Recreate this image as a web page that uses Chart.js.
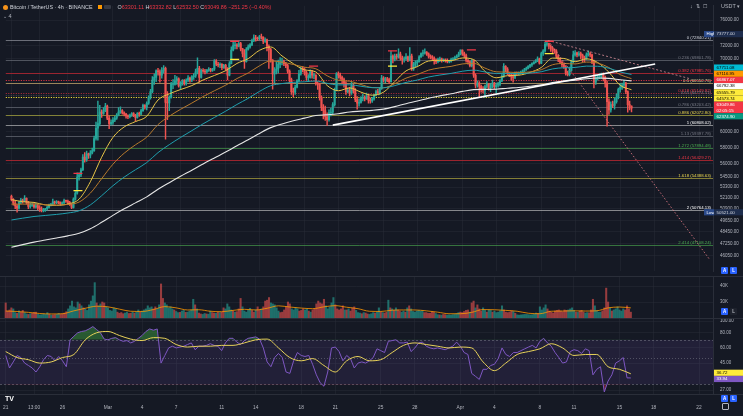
<!DOCTYPE html>
<html>
<head>
<meta charset="utf-8">
<title>Bitcoin / TetherUS 4h</title>
<script src="https://cdn.jsdelivr.net/npm/chart.js@4.4.1/dist/chart.umd.min.js"></script>
<style>
    html, body { margin: 0; padding: 0; background: #151924; }
    body { width: 743px; height: 416px; position: relative; overflow: hidden; font-family: "Liberation Sans", Arial, sans-serif; color: #d1d4dc; }
    canvas { position: absolute; left: 0; display: block; }
    .sep { position: absolute; left: 0; width: 743px; height: 1px; background: #2a2e39; }
    .txt { position: absolute; white-space: nowrap; font-size: 5.4px; line-height: 6px; }
    .dn { color: #f23645; }
    .coin { display: inline-block; width: 5px; height: 5px; border-radius: 50%; background: #f7931a; vertical-align: -1px; margin-right: 2px; }
    .sq { display: inline-block; width: 4px; height: 4px; background: #ff9800; margin: 0 2px 0 5px; vertical-align: 0; }
    .pill { display: inline-block; width: 7px; height: 4px; background: #363a45; border-radius: 1px; margin-right: 7px; vertical-align: 0; }
    .btn { position: absolute; width: 7px; height: 7px; border-radius: 1px; background: #2962ff; color: #fff; font-size: 4.5px; line-height: 7px; text-align: center; font-weight: bold; }
    .btn.off { background: #1e222d; color: #b2b5be; }
</style>
</head>
<body>
<canvas id="price-chart" width="743" height="277" style="top:0"></canvas>
<canvas id="volume-chart" width="743" height="41" style="top:277px"></canvas>
<canvas id="rsi-chart" width="743" height="97" style="top:319px"></canvas>
<div class="sep" style="top:276px"></div>
<div class="sep" style="top:318px"></div>
<div class="sep" style="top:394px"></div>

<div class="txt" style="left:3px;top:4px"><span class="coin"></span>Bitcoin / TetherUS · 4h · BINANCE<span class="sq"></span><span class="pill"></span>O<span class="dn">63301.11</span> H<span class="dn">63332.82</span> L<span class="dn">62532.50</span> C<span class="dn">63049.86</span> <span class="dn">−251.25 (−0.40%)</span></div>
<div class="txt" style="left:3px;top:13px;color:#b2b5be">⌄ 4</div>
<div class="txt" style="left:690px;top:3px;color:#b2b5be">↓&nbsp;&nbsp;⇅&nbsp;&nbsp;☐</div>
<div class="txt" style="left:721px;top:3px;color:#b2b5be">USDT ▾</div>
<div class="txt" style="left:5px;top:396px;font-size:7px;font-weight:900;color:#fff">TV</div>
<div class="txt" style="left:722px;top:403px;width:5px;height:5px;border:1px solid #b2b5be;border-radius:1px"></div>
<div class="btn" style="left:721px;top:267px">A</div><div class="btn" style="left:730px;top:267px">L</div>
<div class="btn" style="left:721px;top:308px">A</div><div class="btn off" style="left:730px;top:308px">L</div>
<div class="btn" style="left:721px;top:395px">A</div><div class="btn" style="left:730px;top:395px">L</div>

<script>
// ---------------------------------------------------------------------------
// Data: BTCUSDT 4h candles from Feb 21 00:00 UTC, six candles per day
// ---------------------------------------------------------------------------
var opens = [
    52270, 51900, 51500, 51200, 50950, 51600,
    51850, 51750, 52050, 51600, 51150, 51250,
    51300, 51100, 51250, 51000, 50900, 50700,
    50750, 50900, 51050, 51300, 51400, 51650,
    51550, 51650, 51600, 51450, 51550, 51800,
    51730, 51600, 51350, 51050, 51950, 52600,
    54450, 54700, 55300, 56800, 56500, 57200,
    57050, 57300, 57600, 59100, 60400, 61000,
    62500, 62350, 62700, 63300, 61700, 61000,
    61150, 61450, 61700, 62100, 62500, 62700,
    62400, 62250, 62000, 61900, 62100, 62300,
    62050, 61800, 62300, 62250, 62700, 63400,
    63150, 63700, 64500, 65300, 66900, 67300,
    68250, 68100, 67600, 68300, 68600, 63800,
    63750, 64500, 66300, 66300, 66800, 67100,
    66100, 66600, 66800, 66400, 66900, 67200,
    66900, 67400, 67500, 68100, 68600, 67300,
    68300, 68200, 68100, 68300, 68500, 68300,
    68500, 69700, 69200, 69100, 69200, 68700,
    69050, 68500, 67600, 69300, 71300, 72000,
    72100, 71900, 72300, 71500, 70800, 69600,
    71450, 71800, 72100, 72800, 73200, 73100,
    73050, 73400, 73300, 72700, 72900, 71900,
    71400, 69800, 67800, 68200, 68500, 69200,
    69450, 69600, 69300, 69000, 68200, 67000,
    65300, 65200, 65900, 66800, 67800, 68600,
    68400, 68000, 67300, 67300, 68100, 67600,
    67600, 66400, 66300, 64500, 63100, 62700,
    61900, 61500, 62400, 62500, 63500, 65500,
    67850, 67600, 67300, 67000, 66500, 65300,
    65500, 65100, 66100, 65400, 64200, 63700,
    63800, 64400, 64500, 64300, 64700, 64100,
    64000, 64300, 64800, 65300, 65100, 65700,
    67200, 66900, 67100, 67000, 66700, 70400,
    69950, 70400, 70300, 70700, 70100, 69900,
    70000, 70300, 69800, 70400, 68500, 69200,
    69450, 69600, 70300, 70800, 70900, 71000,
    70750, 70400, 70300, 70100, 69800, 69600,
    69900, 70000, 69800, 69800, 69700, 69600,
    69650, 69900, 70000, 70200, 70400, 70700,
    71300, 70800, 70500, 69800, 69600, 69000,
    69700, 67600, 66200, 66500, 66000, 65600,
    65450, 66000, 66300, 65800, 66100, 66500,
    65970, 66200, 66300, 66800, 67400, 68900,
    68500, 67900, 67500, 67400, 67300, 67900,
    67850, 67900, 68000, 68200, 68400, 68600,
    68900, 69100, 69300, 69500, 69700, 70000,
    69350, 70800, 71200, 72200, 72300, 71900,
    71600, 71300, 71200, 70400, 70000, 69500,
    69150, 68800, 67900, 67700, 68300, 69600,
    70600, 70900, 70600, 70800, 70500, 70200,
    70000, 70600, 70800, 70600, 69600, 66600,
    67150, 67300, 67500, 67800, 67300, 66500,
    63900, 62800, 63500, 63400, 63900, 64500,
    65600, 65900, 66200, 66500, 65300, 63500,
    63301.11
];
var highs = [
    52400, 52000, 51700, 51350, 51700, 52050,
    51950, 52350, 52100, 51700, 51500, 51500,
    51450, 51500, 51400, 51250, 51100, 50950,
    50950, 51200, 51400, 51500, 51950, 51750,
    51800, 51750, 51650, 51650, 51950, 51850,
    51850, 51700, 51450, 52100, 52800, 54950,
    54950, 55500, 57100, 57350, 57550, 57300,
    57600, 57900, 59400, 61200, 64000, 63400,
    62800, 63100, 63680, 63450, 62000, 61500,
    61800, 61950, 62300, 63100, 63200, 62850,
    62550, 62350, 62150, 62250, 62450, 62450,
    62200, 62450, 62500, 62900, 63600, 63500,
    63900, 64700, 65600, 67400, 67800, 68400,
    68600, 68400, 68700, 69000, 68800, 65300,
    64700, 66600, 67000, 67600, 67400, 67250,
    66700, 67000, 67000, 67100, 67550, 67350,
    67550, 67850, 68500, 70150, 68900, 68500,
    68550, 68450, 68450, 68700, 68600, 68600,
    69900, 69900, 69500, 69400, 69300, 69200,
    69200, 68700, 69600, 71800, 72800, 72500,
    72300, 72600, 72500, 71600, 71400, 71700,
    72100, 72300, 73000, 73650, 73600, 73300,
    73600, 73777, 73350, 73200, 73000, 72100,
    71600, 69900, 68700, 69600, 69800, 70200,
    70100, 69800, 69500, 69200, 68400, 67200,
    65800, 66200, 67000, 68300, 68800, 68850,
    68700, 68200, 67700, 68400, 68300, 67900,
    67700, 66700, 66500, 64700, 63500, 63300,
    62400, 62800, 63000, 63800, 65800, 68000,
    68100, 67900, 67500, 67200, 66700, 65800,
    65900, 66600, 66300, 65700, 64600, 64300,
    64600, 65000, 64700, 65100, 64900, 64400,
    64500, 64900, 65500, 65600, 65900, 67600,
    67400, 67300, 67300, 67200, 71150, 70600,
    70700, 70700, 71500, 71000, 70400, 70300,
    70800, 70400, 71700, 70700, 69500, 69700,
    69800, 70500, 70900, 71300, 71500, 71100,
    70900, 70600, 70500, 70300, 70000, 70100,
    70250, 70100, 70000, 70000, 70000, 69800,
    70100, 70200, 70400, 70600, 71000, 71350,
    71350, 71000, 70700, 69900, 69700, 69900,
    69800, 67800, 66800, 66700, 66200, 66000,
    66200, 66700, 66400, 66400, 66900, 66600,
    66500, 66600, 67000, 67700, 69300, 69000,
    68700, 68000, 67800, 67900, 68100, 68100,
    68100, 68200, 68400, 68600, 68800, 69000,
    69200, 69400, 69600, 69900, 70300, 70100,
    71000, 71400, 72500, 72797, 72400, 72100,
    71750, 71500, 71400, 70600, 70100, 69700,
    69400, 69000, 68200, 68800, 69800, 71150,
    71250, 71000, 71100, 71000, 70700, 70400,
    70900, 71200, 71000, 70700, 69800, 67700,
    67600, 67800, 67900, 67950, 67500, 66800,
    64300, 63900, 64000, 64400, 65000, 65800,
    66400, 66500, 66870, 66600, 65400, 64000,
    63332.82
];
var lows = [
    51750, 51300, 50900, 50521, 50850, 51450,
    51500, 51650, 51400, 50900, 50950, 51150,
    50950, 50950, 50800, 50600, 50550, 50550,
    50600, 50750, 50950, 51200, 51300, 51400,
    51450, 51450, 51300, 51350, 51450, 51600,
    51350, 51250, 50900, 50950, 51850, 52500,
    54100, 54500, 55200, 56200, 56300, 56650,
    56700, 57200, 57500, 58900, 58900, 60700,
    61800, 62200, 62550, 61500, 60350, 60800,
    60900, 61250, 61550, 62000, 62350, 62250,
    62000, 61700, 61650, 61750, 61950, 61900,
    61300, 61700, 61950, 62150, 62600, 62900,
    62800, 63550, 64250, 65100, 66300, 66700,
    67600, 66600, 67200, 67900, 59000, 61500,
    62700, 64400, 65700, 66200, 66300, 65900,
    65600, 66200, 66200, 66200, 66700, 66600,
    66700, 67000, 67300, 67800, 66600, 67200,
    68000, 67800, 67900, 68150, 68100, 68150,
    68300, 69000, 68800, 68700, 68400, 68600,
    68300, 66950, 67500, 69250, 71200, 71500,
    71500, 71800, 71200, 70300, 68600, 69500,
    71300, 71600, 72000, 72600, 72700, 72800,
    72900, 73000, 72300, 72500, 71200, 68600,
    69500, 65630, 66500, 67800, 67900, 68700,
    69100, 69000, 68700, 67900, 66600, 64900,
    64550, 64900, 65800, 66700, 67600, 68100,
    67600, 66950, 66700, 67200, 67200, 67100,
    66200, 65600, 64100, 62700, 61600, 61400,
    60775, 61300, 62000, 62300, 63300, 65400,
    67200, 67000, 66400, 65900, 64900, 65100,
    64700, 64900, 65100, 63900, 62900, 63300,
    63700, 64000, 64000, 64200, 63700, 63700,
    63800, 64100, 64700, 64900, 64900, 65600,
    66600, 66500, 66700, 66400, 66600, 69400,
    69700, 69900, 70100, 69800, 69200, 69500,
    69800, 69600, 69700, 68300, 68300, 68800,
    68900, 69500, 70200, 70400, 70700, 70500,
    70100, 70000, 69800, 69200, 69300, 69400,
    69600, 69500, 69600, 69500, 69400, 69400,
    69500, 69800, 69900, 70100, 70300, 70600,
    70500, 70200, 69500, 69200, 68800, 68800,
    67300, 65800, 65900, 64500, 65200, 65100,
    64500, 65800, 65500, 65300, 65800, 65700,
    65100, 65900, 66100, 66700, 67300, 68100,
    67700, 67400, 66900, 66600, 67100, 67600,
    67600, 67800, 68000, 68100, 68300, 68500,
    68700, 68900, 69200, 69400, 69600, 69200,
    69300, 70500, 71000, 71900, 71500, 71100,
    70900, 70800, 70100, 69600, 69300, 68800,
    68600, 67600, 67500, 67500, 68200, 69400,
    70400, 70300, 70400, 70000, 69600, 69600,
    69900, 70400, 70300, 69300, 65800, 66300,
    66900, 67100, 67200, 66800, 65900, 60660,
    62200, 62500, 63100, 62900, 63700, 64300,
    65200, 65600, 65800, 65000, 62500, 62800,
    62532.50
];
var closes = [
    51900, 51500, 51200, 50950, 51600, 51850,
    51750, 52050, 51600, 51150, 51250, 51300,
    51100, 51250, 51000, 50900, 50700, 50750,
    50900, 51050, 51300, 51400, 51650, 51550,
    51650, 51600, 51450, 51550, 51800, 51730,
    51600, 51350, 51050, 51950, 52600, 54450,
    54700, 55300, 56800, 56500, 57200, 57050,
    57300, 57600, 59100, 60400, 61000, 62500,
    62350, 62700, 63300, 61700, 61000, 61150,
    61450, 61700, 62100, 62500, 62700, 62400,
    62250, 62000, 61900, 62100, 62300, 62050,
    61800, 62300, 62250, 62700, 63400, 63150,
    63700, 64500, 65300, 66900, 67300, 68250,
    68100, 67600, 68300, 68600, 63800, 63750,
    64500, 66300, 66300, 66800, 67100, 66100,
    66600, 66800, 66400, 66900, 67200, 66900,
    67400, 67500, 68100, 68600, 67300, 68300,
    68200, 68100, 68300, 68500, 68300, 68500,
    69700, 69200, 69100, 69200, 68700, 69050,
    68500, 67600, 69300, 71300, 72000, 72100,
    71900, 72300, 71500, 70800, 69600, 71450,
    71800, 72100, 72800, 73200, 73100, 73050,
    73400, 73300, 72700, 72900, 71900, 71400,
    69800, 67800, 68200, 68500, 69200, 69450,
    69600, 69300, 69000, 68200, 67000, 65300,
    65200, 65900, 66800, 67800, 68600, 68400,
    68000, 67300, 67300, 68100, 67600, 67600,
    66400, 66300, 64500, 63100, 62700, 61900,
    61500, 62400, 62500, 63500, 65500, 67850,
    67600, 67300, 67000, 66500, 65300, 65500,
    65100, 66100, 65400, 64200, 63700, 63800,
    64400, 64500, 64300, 64700, 64100, 64000,
    64300, 64800, 65300, 65100, 65700, 67200,
    66900, 67100, 67000, 66700, 70400, 69950,
    70400, 70300, 70700, 70100, 69900, 70000,
    70300, 69800, 70400, 68500, 69200, 69450,
    69600, 70300, 70800, 70900, 71000, 70750,
    70400, 70300, 70100, 69800, 69600, 69900,
    70000, 69800, 69800, 69700, 69600, 69650,
    69900, 70000, 70200, 70400, 70700, 71300,
    70800, 70500, 69800, 69600, 69000, 69700,
    67600, 66200, 66500, 66000, 65600, 65450,
    66000, 66300, 65800, 66100, 66500, 65970,
    66200, 66300, 66800, 67400, 68900, 68500,
    67900, 67500, 67400, 67300, 67900, 67850,
    67900, 68000, 68200, 68400, 68600, 68900,
    69100, 69300, 69500, 69700, 70000, 69350,
    70800, 71200, 72200, 72300, 71900, 71600,
    71300, 71200, 70400, 70000, 69500, 69150,
    68800, 67900, 67700, 68300, 69600, 70600,
    70900, 70600, 70800, 70500, 70200, 70000,
    70600, 70800, 70600, 69600, 66600, 67150,
    67300, 67500, 67800, 67300, 66500, 63900,
    62800, 63500, 63400, 63900, 64500, 65600,
    65900, 66200, 66500, 65300, 63500, 63301.11,
    63049.86
];
// volume per candle, thousand BTC
var volumes = [
    29.5, 25.5, 26.0, 27.0, 26.5, 24.8,
    24.5, 25.6, 25.0, 25.8, 24.8, 24.2,
    24.0, 24.3, 24.5, 24.9, 25.0, 24.1,
    23.8, 23.9, 24.2, 24.0, 24.8, 24.1,
    23.7, 23.8, 23.9, 24.0, 24.4, 24.0,
    24.3, 24.6, 25.2, 26.5, 28.0, 30.5,
    27.5, 27.0, 30.0, 29.0, 28.0, 27.0,
    26.5, 25.8, 28.5, 30.5, 33.5, 42.5,
    29.5, 28.0, 29.0, 30.0, 29.5, 27.5,
    27.0, 25.8, 25.5, 27.0, 26.5, 25.0,
    24.5, 24.8, 24.3, 24.6, 25.0, 24.4,
    24.5, 25.0, 24.6, 25.2, 26.0, 25.0,
    25.5, 26.0, 26.5, 28.0, 27.0, 27.5,
    26.5, 27.5, 26.5, 28.5, 41.5, 32.0,
    29.5, 28.5, 27.0, 27.5, 26.5, 26.0,
    25.3, 24.8, 24.9, 25.5, 25.8, 24.9,
    25.0, 25.5, 26.0, 31.5, 28.5, 26.5,
    24.6, 24.2, 24.0, 24.4, 24.2, 24.1,
    25.5, 24.8, 24.6, 24.5, 25.0, 24.8,
    25.0, 27.0, 26.5, 29.0, 27.5, 26.0,
    25.5, 25.0, 25.2, 26.5, 32.0, 27.5,
    25.5, 25.0, 26.0, 26.8, 25.8, 25.0,
    26.0, 27.5, 26.0, 26.5, 27.5, 30.5,
    31.0, 32.5, 29.5, 29.0, 28.5, 27.0,
    25.5, 24.8, 25.0, 26.0, 27.5, 30.0,
    29.0, 26.5, 26.0, 27.0, 26.5, 25.5,
    25.8, 26.5, 26.0, 26.5, 25.5, 25.0,
    26.0, 26.5, 29.0, 30.5, 29.5, 29.0,
    31.5, 28.0, 26.5, 27.5, 29.5, 32.5,
    28.5, 26.5, 26.0, 26.5, 28.0, 26.0,
    26.0, 26.5, 25.5, 27.0, 27.5, 25.8,
    24.8, 24.6, 24.3, 24.8, 24.6, 24.2,
    24.0, 24.3, 24.8, 24.6, 25.0, 27.0,
    25.0, 24.8, 24.6, 25.0, 31.0, 27.0,
    26.5, 25.8, 27.0, 26.0, 25.5, 25.0,
    25.5, 25.0, 27.0, 28.0, 26.5, 25.3,
    25.0, 25.5, 25.8, 25.5, 25.6, 24.8,
    24.8, 24.5, 24.5, 25.2, 25.0, 24.4,
    23.9, 23.8, 23.7, 24.0, 23.9, 23.7,
    23.8, 23.7, 23.9, 24.0, 24.3, 24.8,
    25.0, 24.8, 25.3, 25.8, 26.0, 25.0,
    29.5, 30.5, 27.0, 28.5, 26.5, 25.5,
    27.0, 25.8, 25.0, 26.0, 25.8, 25.0,
    25.5, 24.8, 25.0, 25.6, 28.0, 26.0,
    25.0, 24.8, 25.0, 25.6, 25.3, 24.5,
    23.8, 23.7, 23.8, 23.9, 24.0, 24.0,
    23.9, 23.8, 23.9, 24.2, 24.6, 24.4,
    27.5, 26.0, 27.0, 28.5, 26.5, 25.5,
    25.0, 24.6, 25.5, 25.8, 26.0, 25.5,
    25.2, 26.0, 25.8, 26.0, 26.5, 27.0,
    25.8, 25.0, 24.9, 25.5, 25.8, 25.0,
    24.6, 24.8, 24.7, 26.0, 31.5, 28.0,
    25.8, 25.0, 25.0, 25.6, 27.0, 38.5,
    30.0, 27.0, 25.5, 26.0, 26.5, 27.5,
    26.0, 25.5, 26.5, 26.0, 28.0, 26.5,
    25.0
];
// moving averages, one value per day at 00:00 UTC (day 0 = Feb 21)
var ema20 = [51900, 51670, 51590, 51320, 51270, 51420, 51950, 53910, 56790, 59230, 60570, 61260, 61950, 64140,
    64980, 65580, 66130, 66930, 67570, 68260, 69320, 70030, 71280, 71790, 70440, 69290, 68390, 68080, 66150,
    65410, 65810, 65220, 64800, 65210, 66690, 68230, 68850, 69680, 69780, 69740, 70130, 69890, 68180, 67240,
    67540, 67610, 68010, 68730, 70110, 70060, 69580, 70000, 69460, 68030, 66170, 65555.79];
var ema50 = [51400, 51400, 51420, 51330, 51300, 51370, 51630, 52620, 54260, 55950, 57280, 58310, 59270, 60870,
    61960, 62880, 63720, 64610, 65410, 66190, 67130, 67930, 68970, 69700, 69510, 69170, 68770, 68540, 67530,
    66890, 66760, 66280, 65860, 65830, 66400, 67190, 67700, 68340, 68670, 68890, 69250, 69330, 68640, 68100,
    68060, 67980, 68090, 68410, 69130, 69320, 69250, 69520, 69370, 68710, 67690, 67116.95];
var ema100 = [49700, 49890, 50070, 50180, 50290, 50440, 50680, 51320, 52330, 53450, 54440, 55300, 56150, 57350,
    58330, 59230, 60090, 60970, 61800, 62630, 63530, 64360, 65320, 66120, 66420, 66590, 66670, 66780, 66450,
    66230, 66240, 66040, 65840, 65830, 66130, 66580, 66920, 67350, 67630, 67870, 68180, 68340, 68080, 67860,
    67860, 67840, 67920, 68110, 68520, 68690, 68730, 68930, 68910, 68620, 68080, 67711.08];
var ema200 = [46900, 47160, 47410, 47620, 47830, 48050, 48310, 48780, 49450, 50190, 50890, 51540, 52200, 53050,
    53800, 54530, 55240, 55980, 56700, 57420, 58190, 58930, 59740, 60480, 60960, 61360, 61710, 62060, 62160,
    62300, 62530, 62640, 62740, 62910, 63240, 63640, 63990, 64380, 64700, 64990, 65320, 65570, 65600, 65630,
    65760, 65870, 66030, 66230, 66560, 66760, 66890, 67100, 67200, 67150, 66960, 66792.38];
var volumeMa = [25.5, 25.3, 24.9, 24.4, 24.2, 24.3, 25.6, 26.8, 27.8, 27.5, 26.4, 25.4, 25.3, 26.2, 27.6, 27.0,
    26.0, 26.1, 25.4, 25.2, 25.8, 26.3, 26.0, 26.8, 28.0, 27.4, 26.9, 26.6, 27.5, 28.1, 27.3, 26.6, 25.4, 25.3,
    25.9, 26.0, 26.0, 25.6, 25.0, 24.3, 24.3, 24.9, 26.2, 26.1, 25.8, 25.4, 24.5, 24.3, 25.4, 25.5, 25.6, 25.5,
    25.6, 27.0, 27.4, 27.0];
// RSI(14) every 8 hours, and its moving average once per day
var rsi = [
    52, 41, 46, 52, 50, 45, 43, 41, 38, 42, 48, 52, 51, 47, 51, 47, 42, 70,
    75, 80, 82, 83, 86, 90, 85, 80, 71, 70, 72, 73, 70, 68, 69, 66, 68, 72,
    76, 82, 86, 84, 86, 45, 52, 60, 62, 60, 61, 62, 64, 66, 58, 62, 62, 63,
    65, 63, 62, 57, 66, 72, 72, 67, 64, 69, 72, 73, 74, 71, 60, 46, 42, 50,
    54, 50, 38, 37, 47, 55, 52, 51, 52, 44, 36, 31, 29, 38, 60, 61, 56, 47,
    52, 49, 41, 45, 46, 45, 47, 50, 59, 57, 55, 68, 69, 70, 66, 66, 67, 56,
    60, 66, 67, 62, 60, 59, 60, 59, 58, 60, 62, 67, 62, 55, 53, 37, 35, 33,
    40, 40, 43, 44, 49, 60, 53, 51, 55, 55, 57, 59, 61, 63, 60, 68, 72, 66,
    62, 55, 50, 45, 46, 56, 58, 57, 54, 59, 57, 36, 40, 42, 26, 32, 36, 45,
    47, 50, 34, 33.94
];
var rsiMa = [56, 50, 48, 45, 46, 50, 53, 70, 80, 82, 76, 71, 69, 73, 72, 64, 61, 62, 62, 63, 63, 66, 70, 71,
    60, 50, 47, 49, 43, 38, 47, 51, 47, 48, 55, 63, 66, 64, 62, 60, 61, 60, 46, 39, 45, 53, 56, 59, 65, 60, 52,
    53, 53, 42, 40, 36.72];

// Fibonacci retracement drawn from the Apr 8 high to the Mar 20 low (log scale)
var fibRatios = [0, 0.236, 0.382, 0.5, 0.618, 0.65, 0.786, 0.886, 1, 1.13, 1.272, 1.414, 1.618, 2, 2.414];
var fibPrices = [72840.21, 69801.78, 67985.76, 66552.76, 65149.92, 64774.51, 63203.42, 62072.80, 60808.02,
    59397.78, 57894.48, 56429.27, 54388.63, 50764.13, 47108.24];
var levelPrices = [66867.07, 64573.74];

// drawings
var trendDays = [28.5, 57.1], trendPrices = [60800, 69250];
var fanDaysA = [47.6, 60.2], fanPricesA = [72797, 67100];
var fanDaysB = [47.6, 61.96], fanPricesB = [72797, 45650];
var signalDays = [5.9, 5.9, 19.8, 19.8, 26.8, 33.8, 33.8, 40.8, 47.7, 47.7];
var signalPrices = [54870, 52900, 72670, 69910, 68920, 71210, 68920, 71350, 72670, 70770];
var signalKinds = ['sell', 'buy', 'sell', 'buy', 'sell', 'sell', 'buy', 'sell', 'sell', 'buy'];

// price scale labels
var tagPrices = [67711.08, 67116.95, 66867.07, 66792.38, 65555.79, 64573.74, 63049.86, 62374.90];
var countdown = '02:05:15';
var highPrice = 73777, lowPrice = 50521;
var rsiTags = [36.72, 33.94];

// axes
var priceTicks = [76000, 72000, 70000, 60000, 58000, 56000, 54500, 53300, 52100, 50900, 49650, 48450, 47250, 46050];
var volumeTicks = [30, 40];
var rsiTicks = [100, 80, 60, 45, 27];
var timeTickDays = [0, 2.5, 5, 9, 12, 15, 19, 22, 26, 29, 33, 36, 40, 43, 47, 50, 54, 57, 61];
var timeTickLabels = ['21', '13:00', '26', 'Mar', '4', '7', '11', '14', '18', '21', '25', '28', 'Apr', '4', '8', '11', '15', '18', '22'];

// ---------------------------------------------------------------------------
// Styles
// ---------------------------------------------------------------------------
var FONT = '"Liberation Sans", Arial, sans-serif',
    TEXT = '#b2b5be',
    GRID = 'rgba(42,46,57,0.45)',
    UP = '#26a69a',
    DOWN = '#ef5350',
    X_MIN = -0.5015,
    X_MAX = 62.23,
    AXIS_WIDTH = 30;

var fibLineColors = ['rgba(178,181,190,0.55)', 'rgba(120,123,134,0.6)', 'rgba(178,40,51,0.85)', 'rgba(200,170,110,0.75)',
    'rgba(242,54,69,0.75)', 'rgba(120,123,134,0.45)', 'rgba(120,123,134,0.6)', 'rgba(150,150,60,0.85)', 'rgba(210,210,210,0.6)',
    'rgba(120,123,134,0.6)', 'rgba(76,175,80,0.6)', 'rgba(200,40,50,0.75)', 'rgba(170,160,60,0.75)', 'rgba(210,210,210,0.6)',
    'rgba(76,175,80,0.6)'];
var fibTextColors = ['#d1d4dc', '#787b86', '#f23645', '#e8dca0', '#f23645', '#787b86', '#787b86', '#e8d44d', '#ffffff',
    '#787b86', '#4caf50', '#f23645', '#e8d44d', '#ffffff', '#4caf50'];
var fibDashes = [[], [], [], [], [1, 1.5], [1, 1.5], [], [], [], [], [], [], [], [], []];
var levelColors = ['rgba(242,54,69,0.85)', 'rgba(255,235,59,0.9)'];
var tagBg = ['#00bcd4', '#ff9800', '#f23645', '#ffffff', '#ffeb3b', '#ffeb3b', '#f23645', '#089981'];
var tagFg = ['#000000', '#000000', '#ffffff', '#000000', '#000000', '#000000', '#ffffff', '#ffffff'];

Chart.defaults.font.family = FONT;
Chart.defaults.color = TEXT;

/**
 * Shared time axis.
 * @param  {boolean} showLabels draw the date labels under the pane
 * @return {object}
 */
function timeScale(showLabels) {
    return {
        type: 'linear',
        min: X_MIN,
        max: X_MAX,
        offset: false,
        grid: { color: GRID, drawTicks: false, offset: false },
        border: { display: false },
        ticks: {
            display: showLabels,
            autoSkip: false,
            maxRotation: 0,
            padding: 11,
            color: TEXT,
            font: { size: 4.8 },
            callback: function(value) {
                var i = timeTickDays.indexOf(value);
                return i < 0 ? '' : timeTickLabels[i];
            }
        },
        afterBuildTicks: function(scale) {
            scale.ticks = timeTickDays.map(function(d) { return { value: d }; });
        },
        afterFit: function(scale) {
            scale.height = showLabels ? 22 : 0;
            scale.paddingLeft = 0;
            scale.paddingRight = 0;
        }
    };
}

/**
 * Right hand log value axis.
 */
function valueScale(min, max, ticks, format) {
    return {
        type: 'logarithmic',
        position: 'right',
        min: min,
        max: max,
        bounds: 'data',
        grid: { color: GRID, drawTicks: false },
        border: { display: true, color: '#2a2e39' },
        ticks: { autoSkip: false, padding: 7, color: TEXT, font: { size: 4.5 }, callback: format },
        afterBuildTicks: function(scale) {
            scale.ticks = ticks.map(function(v) { return { value: v }; });
        },
        afterFit: function(scale) {
            scale.width = AXIS_WIDTH;
            scale.paddingTop = 0;
            scale.paddingBottom = 0;
        }
    };
}

function dailyPoints(values) {
    return values.map(function(v, d) { return { x: d, y: v }; });
}

function linePoints(days, values) {
    return days.map(function(d, i) { return { x: d, y: values[i] }; });
}

function candleColor(ctx) {
    var i = ctx.dataIndex;
    return closes[i] >= opens[i] ? UP : DOWN;
}

/**
 * Push overlapping scale tags apart.
 */
function spreadTags(tags) {
    tags.sort(function(a, b) { return a.y - b.y; });
    for (var n = 0; n < 80; n++) {
        for (var j = 1; j < tags.length; j++) {
            var a = tags[j - 1], b = tags[j], need = (a.h + b.h) / 2, gap = b.y - a.y;
            if (gap < need) {
                a.y -= (need - gap) / 2;
                b.y += (need - gap) / 2;
            }
        }
    }
}

function drawTag(ctx, x, y, w, h, bg, fg, lines) {
    ctx.fillStyle = bg;
    ctx.fillRect(x, y - h / 2, w, h);
    ctx.fillStyle = fg;
    ctx.textAlign = 'left';
    ctx.textBaseline = 'middle';
    lines.forEach(function(text, k) {
        ctx.fillText(text, x + 2.5, y - h / 2 + 3.2 + k * 5.6);
    });
}

// Fibonacci and horizontal levels, under the candles
var levelsPlugin = {
    id: 'levels',
    beforeDatasetsDraw: function(chart) {
        var ctx = chart.ctx, area = chart.chartArea, y = chart.scales.y;
        ctx.save();
        ctx.lineWidth = 1;
        ctx.font = '4.3px ' + FONT;
        ctx.textAlign = 'right';
        ctx.textBaseline = 'alphabetic';
        fibPrices.forEach(function(price, i) {
            var py = Math.round(y.getPixelForValue(price)) + 0.5;
            ctx.setLineDash(fibDashes[i]);
            ctx.strokeStyle = fibLineColors[i];
            ctx.beginPath();
            ctx.moveTo(area.left, py);
            ctx.lineTo(area.right, py);
            ctx.stroke();
            ctx.fillStyle = fibTextColors[i];
            ctx.fillText(fibRatios[i] + ' (' + price.toFixed(2) + ')', area.right - 2, py - 1.5);
        });
        levelPrices.forEach(function(price, i) {
            var py = Math.round(y.getPixelForValue(price)) + 0.5;
            ctx.setLineDash([1.2, 1.3]);
            ctx.strokeStyle = levelColors[i];
            ctx.beginPath();
            ctx.moveTo(area.left, py);
            ctx.lineTo(area.right, py);
            ctx.stroke();
        });
        ctx.restore();
    }
};

// coloured price tags on the right axis
var priceTagPlugin = {
    id: 'priceTags',
    afterDraw: function(chart) {
        var ctx = chart.ctx, y = chart.scales.y, left = chart.chartArea.right + 1, w = chart.width - left;
        var tags = tagPrices.map(function(price, i) {
            return { i: i, price: price, y: y.getPixelForValue(price), h: i === 6 ? 11.5 : 6.2 };
        });
        spreadTags(tags);
        ctx.save();
        ctx.font = '4.4px ' + FONT;
        tags.forEach(function(t) {
            var lines = t.i === 6 ? [t.price.toFixed(2), countdown] : [t.price.toFixed(2)];
            drawTag(ctx, left, t.y, w, t.h, tagBg[t.i], tagFg[t.i], lines);
        });
        [[highPrice, 'High'], [lowPrice, 'Low']].forEach(function(item) {
            var py = y.getPixelForValue(item[0]);
            drawTag(ctx, left - 10, py, 10, 6.2, '#2b4a8b', '#ffffff', [item[1]]);
            drawTag(ctx, left, py, w, 6.2, '#1e2d4d', '#d1d4dc', [item[0].toFixed(2)]);
        });
        ctx.restore();
    }
};

// RSI band and level lines
var rsiBandPlugin = {
    id: 'rsiBand',
    beforeDatasetsDraw: function(chart) {
        var ctx = chart.ctx, area = chart.chartArea, y = chart.scales.y;
        var top = y.getPixelForValue(70), bottom = y.getPixelForValue(30);
        ctx.save();
        ctx.fillStyle = 'rgba(126,87,194,0.13)';
        ctx.fillRect(area.left, top, area.right - area.left, bottom - top);
        ctx.strokeStyle = 'rgba(120,123,134,0.55)';
        ctx.lineWidth = 1;
        [70, 50, 30].forEach(function(level) {
            var py = Math.round(y.getPixelForValue(level)) + 0.5;
            ctx.setLineDash(level === 50 ? [1, 2] : [2, 2]);
            ctx.beginPath();
            ctx.moveTo(area.left, py);
            ctx.lineTo(area.right, py);
            ctx.stroke();
        });
        ctx.restore();
    },
    afterDraw: function(chart) {
        var ctx = chart.ctx, y = chart.scales.y, left = chart.chartArea.right + 1, w = chart.width - left;
        var bg = ['#ffeb3b', '#7e57c2'], fg = ['#000000', '#ffffff'];
        var tags = rsiTags.map(function(v, i) { return { i: i, v: v, y: y.getPixelForValue(v), h: 6.2 }; });
        spreadTags(tags);
        ctx.save();
        ctx.font = '4.4px ' + FONT;
        tags.forEach(function(t) {
            drawTag(ctx, left, t.y, w, t.h, bg[t.i], fg[t.i], [t.v.toFixed(2)]);
        });
        ctx.restore();
    }
};

var baseOptions = {
    animation: false,
    responsive: false,
    maintainAspectRatio: false,
    layout: { padding: 0 },
    plugins: { legend: { display: false }, tooltip: { enabled: false } }
};

// ---------------------------------------------------------------------------
// Price pane
// ---------------------------------------------------------------------------
new Chart(document.getElementById('price-chart'), {
    type: 'bar',
    data: {
        datasets: [{
            label: 'Wicks',
            data: closes.map(function(c, i) { return { x: i / 6, y: [lows[i], highs[i]] }; }),
            backgroundColor: candleColor,
            barThickness: 0.8,
            grouped: false,
            order: 4
        }, {
            label: 'Bodies',
            data: closes.map(function(c, i) { return { x: i / 6, y: [opens[i], c] }; }),
            backgroundColor: candleColor,
            barThickness: 1.4,
            minBarLength: 0.7,
            grouped: false,
            order: 3
        }, {
            type: 'line', label: 'EMA 200', data: dailyPoints(ema200),
            borderColor: '#e6e6e6', borderWidth: 1.1, pointRadius: 0, cubicInterpolationMode: 'monotone', order: 2
        }, {
            type: 'line', label: 'EMA 100', data: dailyPoints(ema100),
            borderColor: '#1f9fae', borderWidth: 1, pointRadius: 0, cubicInterpolationMode: 'monotone', order: 2
        }, {
            type: 'line', label: 'EMA 50', data: dailyPoints(ema50),
            borderColor: '#b87a2c', borderWidth: 1, pointRadius: 0, cubicInterpolationMode: 'monotone', order: 2
        }, {
            type: 'line', label: 'EMA 20', data: dailyPoints(ema20),
            borderColor: '#e8c547', borderWidth: 1, pointRadius: 0, cubicInterpolationMode: 'monotone', order: 2
        }, {
            type: 'line', label: 'Trend', data: linePoints(trendDays, trendPrices),
            borderColor: '#ffffff', borderWidth: 1.6, pointRadius: 0, order: 1
        }, {
            type: 'line', label: 'Fan A', data: linePoints(fanDaysA, fanPricesA),
            borderColor: 'rgba(230,150,160,0.75)', borderWidth: 1, borderDash: [2, 2], pointRadius: 0, order: 1
        }, {
            type: 'line', label: 'Fan B', data: linePoints(fanDaysB, fanPricesB),
            borderColor: 'rgba(240,130,140,0.8)', borderWidth: 1, borderDash: [1.5, 2], pointRadius: 0, order: 1
        }, {
            type: 'scatter', label: 'Signals', data: linePoints(signalDays, signalPrices),
            pointStyle: 'line', pointRadius: 4.5, borderWidth: 1.3,
            borderColor: signalKinds.map(function(k) { return k === 'buy' ? '#ffeb3b' : '#f23645'; }),
            order: 0
        }]
    },
    options: Object.assign({}, baseOptions, {
        scales: {
            x: timeScale(false),
            y: valueScale(44572, 78357, priceTicks, function(v) { return v.toFixed(2); })
        }
    }),
    plugins: [levelsPlugin, priceTagPlugin]
});

// ---------------------------------------------------------------------------
// Volume pane
// ---------------------------------------------------------------------------
new Chart(document.getElementById('volume-chart'), {
    type: 'bar',
    data: {
        datasets: [{
            label: 'Volume',
            data: volumes.map(function(v, i) { return { x: i / 6, y: v }; }),
            backgroundColor: function(ctx) {
                var i = ctx.dataIndex;
                return closes[i] >= opens[i] ? 'rgba(38,166,154,0.6)' : 'rgba(239,83,80,0.6)';
            },
            barThickness: 1.4,
            grouped: false,
            order: 2
        }, {
            type: 'line', label: 'Volume MA', data: dailyPoints(volumeMa),
            borderColor: 'rgba(255,152,0,0.8)', borderWidth: 1, pointRadius: 0, cubicInterpolationMode: 'monotone', order: 1
        }]
    },
    options: Object.assign({}, baseOptions, {
        scales: {
            x: timeScale(false),
            y: valueScale(22.5, 47.03, volumeTicks, function(v) { return v + 'K'; })
        }
    })
});

// ---------------------------------------------------------------------------
// RSI pane
// ---------------------------------------------------------------------------
var rsiPoints = rsi.map(function(v, k) { return { x: k / 3, y: v }; });

new Chart(document.getElementById('rsi-chart'), {
    type: 'line',
    data: {
        datasets: [{
            label: 'RSI overbought',
            data: rsiPoints,
            borderColor: 'rgba(0,0,0,0)', pointRadius: 0, borderWidth: 0,
            fill: { target: { value: 70 }, above: 'rgba(56,142,60,0.55)', below: 'rgba(0,0,0,0)' },
            order: 3
        }, {
            label: 'RSI oversold',
            data: rsiPoints,
            borderColor: 'rgba(0,0,0,0)', pointRadius: 0, borderWidth: 0,
            fill: { target: { value: 30 }, above: 'rgba(0,0,0,0)', below: 'rgba(242,54,69,0.35)' },
            order: 3
        }, {
            label: 'RSI',
            data: rsiPoints,
            borderColor: '#7e57c2', borderWidth: 1, pointRadius: 0, fill: false, order: 2
        }, {
            label: 'RSI MA',
            data: dailyPoints(rsiMa),
            borderColor: '#e8d25a', borderWidth: 1, pointRadius: 0, fill: false,
            cubicInterpolationMode: 'monotone', order: 1
        }]
    },
    options: Object.assign({}, baseOptions, {
        scales: {
            x: timeScale(true),
            y: valueScale(25.03, 103.9, rsiTicks, function(v) { return v.toFixed(2); })
        }
    }),
    plugins: [rsiBandPlugin]
});
</script>
</body>
</html>
